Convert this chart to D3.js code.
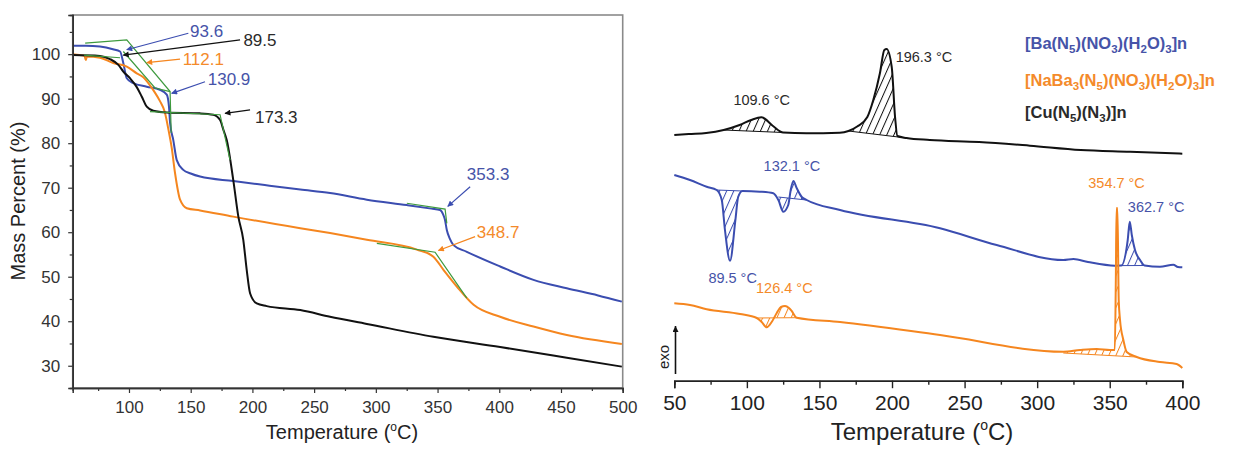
<!DOCTYPE html>
<html><head><meta charset="utf-8">
<script src="https://cdn.jsdelivr.net/npm/d3@7"></script>
<style>
body{margin:0;background:#fff;}
svg{display:block;font-family:'Liberation Sans',Arial,Helvetica,sans-serif;}
</style>
</head><body>
<svg id="c" width="1234" height="449"></svg>
<script>
// ---------------- TGA data (left) ----------------
const baTemp = [54.4,65,76.5,87,92.8,95.4,98.2,103.5,114.4,125.1,130.6,132.4,133.3,135.9,138.7,144,150,157.6,184.5,210,238.8,262.9,292.7,325,345,352,354.5,356,357.5,360,362.9,373.7,400.7,427.7,454.7,480,499.3];
const baMass = [101.9,101.9,101.7,101.1,100.6,98.0,94.6,93.5,92.7,92.0,90.9,88.2,84.5,80.7,76.2,74.0,73.2,72.5,71.5,70.6,69.6,68.8,67.3,66.1,65.3,65.0,64.0,62.8,60.5,58.5,57.1,55.6,52.3,49.3,47.4,45.8,44.4];

const nabaTemp = [54.4,60,64,65,66,76.5,87.3,98.2,106.3,111.6,117,120,125,129,132,134.6,137.3,141.4,146.8,157.6,184.5,238.8,262.9,292.7,333.2,346.6,354.9,365.6,379.2,400.7,427.7,454.7,499.3];
const nabaMass = [100,99.8,99.6,98.7,99.5,99.2,98.0,97.2,95.7,94.8,93.0,91.8,89.5,87.0,83.0,79.0,73.3,67.3,65.4,64.9,63.5,60.9,59.8,58.3,56.1,54.5,51.5,47.8,43.7,41.0,38.8,36.9,34.9];

const cuTemp = [54.4,76.5,84.6,91.4,95.4,100.8,106.3,110.3,114.4,119.7,130.6,157.6,168.3,173.8,176.5,179.2,184.5,188.6,192.6,195.4,198.1,203.5,211.6,238.8,262.9,292.7,346.6,400.7,454.7,499.3];
const cuMass = [99.8,99.6,98.9,97.6,96.1,94.6,92.6,90.5,88.2,87.3,86.9,86.7,86.4,85.2,83.0,80.7,71.7,63.5,58.3,51.5,46.3,44.0,43.4,42.5,41.0,39.4,36.5,34.2,31.8,29.8];

// onset tangent construction lines [T, mass]
const tangentLines = [
  [[64.5,102.5],[98.2,103.2],[133.3,91.6],[134.2,82.3]],
  [[95.4,100.6],[121.1,92.4],[133.3,91.6]],
  [[63.6,99.8],[92.8,99.2]],
  [[117.0,87.1],[173.8,86.4],[181.9,76.2]],
  [[325.1,66.5],[356.1,65.2],[357.5,62.0]],
  [[300.8,57.5],[348.0,55.5],[373.7,45.2]]
];

// onset annotations: label, series, label position [T,mass], arrow from, arrow to
const onsetLabels = ["93.6","89.5","112.1","130.9","173.3","353.3","348.7"];
const onsetSeries = ["ba","cu","naba","ba","cu","ba","naba"];
const onsetTextPos = [[149.5,105.1],[192.7,103.2],[143.5,98.9],[163.8,94.4],[202.1,85.8],[373.7,73.1],[381.8,60.0]];
const onsetArrowFrom = [[148.1,104.7],[190.0,103.2],[141.4,98.9],[161.6,93.8],[198.1,87.5],[376.4,70.2],[380.4,59.0]];
const onsetArrowTo = [[98.2,101.0],[95.4,99.8],[114.4,98.1],[134.6,91.2],[177.8,86.7],[358.3,65.8],[350.7,55.9]];

const tgaXTicks = [100,150,200,250,300,350,400,450,500];
const tgaXMinor = [75,125,175,225,275,325,375,425,475];
const tgaYTicks = [30,40,50,60,70,80,90,100];
const tgaYMinor = [35,45,55,65,75,85,95,105];

// ---------------- DSC data (right, arbitrary heat-flow units) ----------------
const dscCuT = [50,60,72,84,95,103,110,118,125,141,164,170,176,183,187.1,191.7,194.7,196.3,199.8,202.1,203.7,210,226,260,295,330,364,400];
const dscCuV = [24.5,24.6,24.7,25.0,25.5,26.0,26.27,25.4,24.75,24.67,24.73,24.9,25.35,26.3,28.0,30.7,33.0,33.1,31.3,26.3,24.4,24.2,24.0,23.8,23.43,23.0,22.83,22.63];

const dscBaT = [50,60.8,72.3,79.2,82.7,84.9,88.4,92.1,94,97,109,118.2,121.7,125.1,128.5,130.2,132.1,134.3,137.8,141.2,164.2,233.1,272.1,318,325,335,353.6,358,362.4,363.8,365.2,367.4,370.9,374,384.6,393.8,397,400];
const dscBaV = [20.5,20.0,19.33,19.0,18.0,15.0,11.93,16.0,18.3,18.9,18.83,18.67,18.0,16.83,17.5,19.0,19.9,19.2,18.3,18.0,17.0,15.17,13.5,12.0,12.1,11.8,11.43,11.44,14.0,15.83,14.5,13.0,12.0,11.45,11.33,11.53,11.3,11.27];

const dscNaBaT = [50,60.8,72.3,95.3,106.8,110.2,113.7,117.1,120.6,123.5,126.3,129,130.9,134.3,164.2,233.1,318,329.5,341,350.2,353.5,354.2,354.7,355.3,356.2,357.1,359.4,361.7,368.6,384.6,396.1,400];
const dscNaBaV = [7.67,7.5,7.07,6.6,6.2,5.8,5.27,5.8,6.7,7.3,7.4,7.2,6.9,6.23,5.8,4.5,2.83,3.0,3.1,3.0,3.0,10.0,17.2,17.2,8.0,6.0,4.0,2.8,2.3,1.8,1.6,1.2];

// hatched peak regions: series, from T, to T, baseline start value, baseline end value
const hatchSeries = ["cu","cu","ba","ba","ba","naba","naba"];
const hatchFrom = [84,170,79.2,121.7,358,106.8,318];
const hatchTo = [125,210,97,141.2,374,134.3,368.6];
const hatchBase0 = [25.0,24.9,19.0,18.3,11.44,6.2,2.7];
const hatchBase1 = [24.75,24.2,18.9,18.0,11.45,6.23,2.3];

const peakLabels = ["109.6 °C","196.3 °C","89.5 °C","132.1 °C","362.7 °C","126.4 °C","354.7 °C"];
const peakSeries = ["cu","cu","ba","ba","ba","naba","naba"];
const peakLabelPos = [[110.2,28.0],[202.5,32.3],[90.2,10.2],[131.0,21.4],[362.5,17.3],[125.8,9.2],[354.7,19.7]];
const peakAnchor = ["middle","start","middle","middle","start","middle","middle"];

const dscXTicks = [50,100,150,200,250,300,350,400];
const dscXMinor = [75,125,175,225,275,325,375];

const legendNames = [
  [["[Ba(N",0],["5",1],[")(NO",0],["3",1],[")(H",0],["2",1],["O)",0],["3",1],["]n",0]],
  [["[NaBa",0],["3",1],["(N",0],["5",1],[")(NO",0],["3",1],[")(H",0],["2",1],["O)",0],["3",1],["]n",0]],
  [["[Cu(N",0],["5",1],[")(N",0],["3",1],[")]n",0]]
];
const legendSeries = ["ba","naba","cu"];

// ---------------- styles ----------------
const colors = {ba:"#3b4db0", naba:"#f5861f", cu:"#111111"};
const labelColors = {ba:"#4653a8", naba:"#f48a2a", cu:"#2a2a2a"};
const green = "#3e9a3e";

const svg = d3.select("#c");
const defs = svg.append("defs");
Object.entries(colors).forEach(([k,c])=>{
  defs.append("marker").attr("id","arr-"+k).attr("viewBox","0 0 10 10")
    .attr("refX",9).attr("refY",5).attr("markerWidth",7).attr("markerHeight",6)
    .attr("markerUnits","userSpaceOnUse").attr("orient","auto")
    .append("path").attr("d","M0,0 L10,5 L0,10 z").attr("fill",c);
  const p = defs.append("pattern").attr("id","hatch-"+k).attr("patternUnits","userSpaceOnUse")
    .attr("width",6.5).attr("height",10).attr("patternTransform","rotate(24)");
  p.append("line").attr("x1",0.5).attr("y1",0).attr("x2",0.5).attr("y2",10)
    .attr("stroke",c).attr("stroke-width",1);
});
defs.append("marker").attr("id","arr-exo").attr("viewBox","0 0 10 10")
  .attr("refX",5).attr("refY",0).attr("markerWidth",6).attr("markerHeight",9)
  .attr("markerUnits","userSpaceOnUse").attr("orient","0")
  .append("path").attr("d","M0,10 L5,0 L10,10 z").attr("fill","#111");

// ---------------- left panel ----------------
const xL = d3.scaleLinear().domain([54.4,500]).range([72.7,622.7]);
const yL = d3.scaleLinear().domain([25,108.8]).range([388,15]);

const gL = svg.append("g");
gL.append("rect").attr("x",xL.range()[0]).attr("y",yL.range()[1])
  .attr("width",xL.range()[1]-xL.range()[0]).attr("height",yL.range()[0]-yL.range()[1])
  .attr("fill","none").attr("stroke","#8a8a8a").attr("stroke-width",1.6);

const lineL = d3.line().x(d=>xL(d[0])).y(d=>yL(d[1])).curve(d3.curveMonotoneX);
const tga = [["ba",baTemp,baMass],["naba",nabaTemp,nabaMass],["cu",cuTemp,cuMass]];
tga.forEach(([k,T,M])=>{
  gL.append("path").datum(T.map((t,i)=>[t,M[i]])).attr("d",lineL)
    .attr("fill","none").attr("stroke",colors[k]).attr("stroke-width",2);
});
const lineStraight = d3.line().x(d=>xL(d[0])).y(d=>yL(d[1]));
tangentLines.forEach(pts=>{
  gL.append("path").datum(pts).attr("d",lineStraight).attr("fill","none")
    .attr("stroke",green).attr("stroke-width",1.2);
});
onsetLabels.forEach((lab,i)=>{
  const k = onsetSeries[i];
  gL.append("line").attr("x1",xL(onsetArrowFrom[i][0])).attr("y1",yL(onsetArrowFrom[i][1]))
    .attr("x2",xL(onsetArrowTo[i][0])).attr("y2",yL(onsetArrowTo[i][1]))
    .attr("stroke",colors[k]).attr("stroke-width",1.2).attr("marker-end","url(#arr-"+k+")");
  gL.append("text").attr("x",xL(onsetTextPos[i][0])).attr("y",yL(onsetTextPos[i][1]))
    .attr("dy","0.35em").attr("font-size",17).attr("fill",labelColors[k]).text(lab);
});

gL.append("g").attr("transform",`translate(${xL.range()[0]},0)`)
  .call(d3.axisLeft(yL).tickValues(tgaYTicks).tickSize(4.5).tickPadding(8));
gL.append("g").attr("transform",`translate(${xL.range()[0]},0)`)
  .call(d3.axisLeft(yL).tickValues(tgaYMinor).tickSize(3).tickFormat(""));
gL.append("g").attr("transform",`translate(0,${yL.range()[0]})`)
  .call(d3.axisBottom(xL).tickValues(tgaXTicks).tickSize(5).tickPadding(8));
gL.append("g").attr("transform",`translate(0,${yL.range()[0]})`)
  .call(d3.axisBottom(xL).tickValues(tgaXMinor).tickSize(3).tickFormat(""));
gL.selectAll(".domain").attr("stroke","#333").attr("stroke-width",1.5);
gL.selectAll(".tick line").attr("stroke","#333").attr("stroke-width",1.2);
gL.selectAll(".tick text").attr("font-size",17).attr("fill","#333")
  .attr("font-family","'Liberation Sans',Arial,sans-serif");

gL.append("text").attr("transform","translate(25,201) rotate(-90)")
  .attr("text-anchor","middle").attr("font-size",20).attr("fill","#222").text("Mass Percent (%)");
const tL = gL.append("text").attr("x",342).attr("y",439).attr("text-anchor","middle")
  .attr("font-size",20).attr("fill","#222");
tL.append("tspan").text("Temperature (");
tL.append("tspan").attr("font-size",12).attr("dy",-8).text("o");
tL.append("tspan").attr("dy",8).text("C)");

// ---------------- right panel ----------------
const xR = d3.scaleLinear().domain([50,400]).range([674.3,1182.3]);
const yR = d3.scaleLinear().domain([0,38]).range([380,0]);
const gR = svg.append("g");
const lineR = d3.line().x(d=>xR(d[0])).y(d=>yR(d[1])).curve(d3.curveMonotoneX);
const dsc = {cu:[dscCuT,dscCuV], ba:[dscBaT,dscBaV], naba:[dscNaBaT,dscNaBaV]};

hatchSeries.forEach((k,i)=>{
  const [T,V] = dsc[k];
  const t0 = hatchFrom[i], t1 = hatchTo[i];
  const pts = T.map((t,j)=>[t,V[j]]).filter(d=>d[0]>=t0 && d[0]<=t1);
  const base = t => hatchBase0[i] + (hatchBase1[i]-hatchBase0[i])*(t-t0)/(t1-t0);
  const area = d3.area().x(d=>xR(d[0])).y0(d=>yR(base(d[0]))).y1(d=>yR(d[1])).curve(d3.curveMonotoneX);
  gR.append("path").datum(pts).attr("d",area).attr("fill","url(#hatch-"+k+")").attr("stroke","none");
  gR.append("line").attr("x1",xR(t0)).attr("y1",yR(base(t0))).attr("x2",xR(t1)).attr("y2",yR(base(t1)))
    .attr("stroke",colors[k]).attr("stroke-width",1);
});
["cu","ba","naba"].forEach(k=>{
  const [T,V] = dsc[k];
  gR.append("path").datum(T.map((t,j)=>[t,V[j]])).attr("d",lineR)
    .attr("fill","none").attr("stroke",colors[k]).attr("stroke-width",2);
});
peakLabels.forEach((lab,i)=>{
  const k = peakSeries[i];
  gR.append("text").attr("x",xR(peakLabelPos[i][0])).attr("y",yR(peakLabelPos[i][1]))
    .attr("dy","0.35em").attr("text-anchor",peakAnchor[i]).attr("font-size",14.5)
    .attr("fill",labelColors[k]).text(lab);
});

gR.append("g").attr("transform","translate(0,380.7)")
  .call(d3.axisBottom(xR).tickValues(dscXTicks).tickSize(7.5).tickPadding(7));
gR.append("g").attr("transform","translate(0,380.7)")
  .call(d3.axisBottom(xR).tickValues(dscXMinor).tickSize(4).tickFormat(""));
gR.selectAll(".domain").attr("stroke","#222").attr("stroke-width",1.5);
gR.selectAll(".tick line").attr("stroke","#222").attr("stroke-width",1.4);
gR.selectAll(".tick text").attr("font-size",21).attr("fill","#222")
  .attr("font-family","'Liberation Sans',Arial,sans-serif");
const tR = gR.append("text").attr("x",922).attr("y",440).attr("text-anchor","middle")
  .attr("font-size",24).attr("fill","#222");
tR.append("tspan").text("Temperature (");
tR.append("tspan").attr("font-size",14).attr("dy",-10).text("o");
tR.append("tspan").attr("dy",10).text("C)");

gR.append("line").attr("x1",675.5).attr("y1",374).attr("x2",675.5).attr("y2",326)
  .attr("stroke","#111").attr("stroke-width",1.6).attr("marker-end","url(#arr-exo)");
gR.append("text").attr("transform","translate(669,357) rotate(-90)").attr("text-anchor","middle")
  .attr("font-size",15).attr("fill","#222").text("exo");

const legY = [49,86,118];
legendNames.forEach((segs,i)=>{
  const t = gR.append("text").attr("x",1025).attr("y",legY[i]).attr("font-size",16.5)
    .attr("font-weight","bold").attr("fill",labelColors[legendSeries[i]]);
  let prevSub = 0;
  segs.forEach(([s,sub])=>{
    const ts = t.append("tspan").text(s);
    const dy = (sub?4:0) - (prevSub?4:0);
    if (dy) ts.attr("dy",dy);
    if (sub) ts.attr("font-size",11.5);
    prevSub = sub;
  });
});
</script>
</body></html>
